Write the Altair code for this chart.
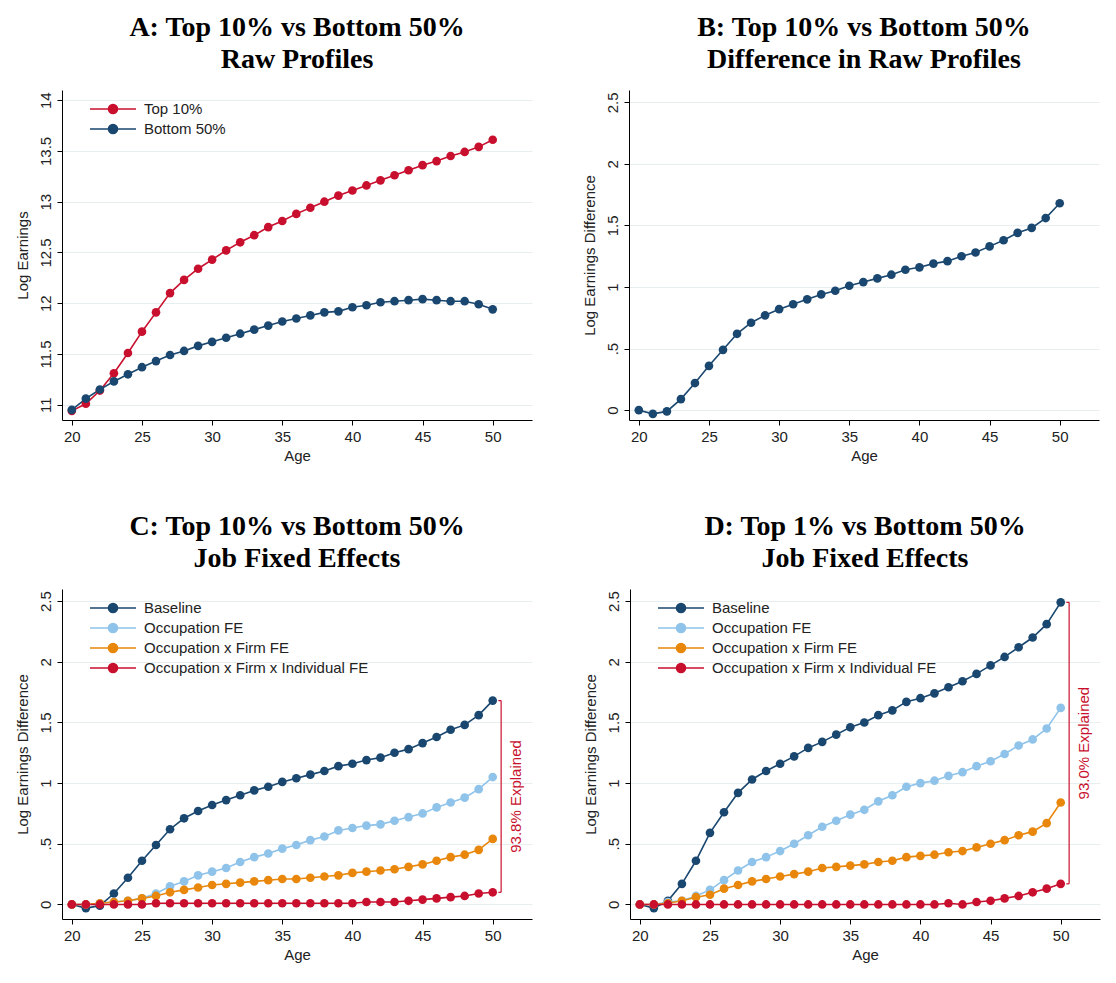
import altair as alt
import pandas as pd

ages = list(range(20, 51))

top10 = [10.94, 11.01, 11.14, 11.31, 11.51, 11.72, 11.91, 12.10, 12.23, 12.34, 12.43, 12.52, 12.60, 12.67, 12.75, 12.81,
         12.88, 12.94, 13.00, 13.06, 13.11, 13.16, 13.21, 13.26, 13.31, 13.36, 13.40, 13.45, 13.49, 13.54, 13.61]
bottom50 = [10.95, 11.06, 11.15, 11.23, 11.30, 11.37, 11.43, 11.49, 11.53, 11.58, 11.62, 11.66, 11.70, 11.74, 11.78, 11.82,
            11.85, 11.88, 11.91, 11.92, 11.96, 11.98, 12.01, 12.02, 12.03, 12.04, 12.03, 12.02, 12.02, 11.99, 11.94]

c_base = [0, -0.03, -0.01, 0.09, 0.22, 0.36, 0.49, 0.62, 0.71, 0.77, 0.82, 0.86, 0.90, 0.94, 0.97, 1.01,
          1.04, 1.07, 1.10, 1.14, 1.16, 1.19, 1.21, 1.25, 1.28, 1.33, 1.38, 1.44, 1.48, 1.56, 1.68]
c_occ = [0, 0, 0.01, 0.02, 0.03, 0.05, 0.09, 0.15, 0.19, 0.24, 0.27, 0.30, 0.35, 0.39, 0.42, 0.46,
         0.49, 0.53, 0.56, 0.61, 0.63, 0.65, 0.66, 0.69, 0.72, 0.75, 0.80, 0.84, 0.88, 0.95, 1.05]
c_firm = [0, 0, 0.01, 0.02, 0.03, 0.05, 0.07, 0.10, 0.12, 0.14, 0.16, 0.17, 0.18, 0.19, 0.20, 0.21,
          0.21, 0.22, 0.23, 0.24, 0.26, 0.27, 0.28, 0.29, 0.31, 0.33, 0.36, 0.39, 0.41, 0.45, 0.54]
c_ind = [0, 0, 0, 0, 0, 0, 0.01, 0.01, 0.01, 0.01, 0.01, 0.01, 0.01, 0.01, 0.01, 0.01,
         0.01, 0.01, 0.01, 0.01, 0.01, 0.02, 0.02, 0.02, 0.03, 0.04, 0.05, 0.06, 0.07, 0.09, 0.10]

d_base = [0, -0.03, 0.03, 0.17, 0.36, 0.59, 0.76, 0.92, 1.03, 1.10, 1.16, 1.22, 1.29, 1.34, 1.40, 1.46,
          1.50, 1.56, 1.60, 1.67, 1.70, 1.74, 1.79, 1.84, 1.90, 1.97, 2.04, 2.12, 2.20, 2.31, 2.49]
d_occ = [0, 0, 0.02, 0.03, 0.07, 0.12, 0.20, 0.28, 0.35, 0.39, 0.44, 0.50, 0.57, 0.64, 0.69, 0.74,
         0.78, 0.85, 0.90, 0.97, 1.00, 1.02, 1.06, 1.09, 1.14, 1.18, 1.24, 1.31, 1.36, 1.45, 1.62]
d_firm = [0, 0, 0.01, 0.03, 0.06, 0.08, 0.13, 0.16, 0.19, 0.21, 0.23, 0.25, 0.27, 0.30, 0.31, 0.32,
          0.33, 0.35, 0.36, 0.39, 0.40, 0.41, 0.43, 0.44, 0.47, 0.50, 0.53, 0.57, 0.60, 0.67, 0.84]
d_ind = [0, 0, 0, 0, 0, 0, 0, 0, 0, 0, 0, 0, 0, 0, 0, 0,
         0, 0, 0, 0, 0, 0, 0.01, 0, 0.02, 0.03, 0.05, 0.07, 0.10, 0.13, 0.17]

NAVY, LBLUE, ORANGE, RED = "#1a476f", "#8fc3ea", "#e8870b", "#c8102e"
fe_names = ["Baseline", "Occupation FE", "Occupation x Firm FE", "Occupation x Firm x Individual FE"]
fe_colors = [NAVY, LBLUE, ORANGE, RED]

# legend symbol: a line with a dot in the middle
LEG_SYMBOL = "M-2.3,0 L2.3,0 M-0.45,0 A0.45,0.45 0 1,0 0.45,0 A0.45,0.45 0 1,0 -0.45,0 Z"


def long(series, names):
    rows = []
    for name, vals in zip(names, series):
        rows += [{"age": a, "value": v, "series": name} for a, v in zip(ages, vals)]
    return pd.DataFrame(rows)


W, H = 470, 330
ylabel = "replace(format(datum.value, '.1~f'), /^0\\./, '.')"


def panel(df, title, ydom, yticks, ytitle, names, colors, legend=True, bracket=None):
    leg = alt.Legend(orient="top-left", title=None, labelFontSize=15, labelFont="Liberation Sans",
                     labelColor="#222", labelLimit=0, symbolType=LEG_SYMBOL, symbolSize=400,
                     symbolStrokeWidth=1.6, rowPadding=1, offset=4, labelOffset=20,
                     legendX=40, legendY=8) if legend else None
    if legend:
        leg = alt.Legend(orient="none", legendX=40, legendY=8, title=None, labelFontSize=15,
                         labelFont="Liberation Sans", labelColor="#222", labelLimit=0,
                         symbolType=LEG_SYMBOL, symbolSize=400, symbolStrokeWidth=1.6,
                         rowPadding=1, labelOffset=20)
    lines = alt.Chart(df).mark_line(point=alt.OverlayMarkDef(size=75, filled=True, opacity=1),
                                    strokeWidth=1.6).encode(
        x=alt.X("age:Q", title="Age", scale=alt.Scale(domain=[19.3, 52.8], nice=False),
                axis=alt.Axis(values=[20, 25, 30, 35, 40, 45, 50], grid=False)),
        y=alt.Y("value:Q", title=ytitle, scale=alt.Scale(domain=list(ydom), nice=False, zero=False),
                axis=alt.Axis(values=yticks, labelAngle=-90, labelAlign="center", labelBaseline="bottom",
                              labelExpr=ylabel, grid=True, titlePadding=8)),
        color=alt.Color("series:N", scale=alt.Scale(domain=names, range=colors), legend=leg),
        order=alt.Order("age:Q"),
    )
    layers = [lines]
    if bracket:
        lo, hi, label = bracket
        bd = pd.DataFrame({"x": [50.6], "x0": [50.4], "lo": [lo], "hi": [hi], "mid": [(lo + hi) / 2], "t": [label]})
        b = alt.Chart(bd)
        layers += [
            b.mark_rule(color=RED, strokeWidth=1.2).encode(x="x:Q", y="lo:Q", y2="hi:Q"),
            b.mark_rule(color=RED, strokeWidth=1.2).encode(x="x0:Q", x2="x:Q", y="lo:Q"),
            b.mark_rule(color=RED, strokeWidth=1.2).encode(x="x0:Q", x2="x:Q", y="hi:Q"),
            b.mark_text(color=RED, angle=270, fontSize=15, font="Liberation Sans", dy=15,
                        baseline="middle").encode(x="x:Q", y="mid:Q", text="t:N"),
        ]
    return alt.layer(*layers).properties(
        width=W, height=H,
        title=alt.TitleParams(title, font="Liberation Serif", fontSize=28, fontWeight="bold",
                              color="black", anchor="middle", offset=16, lineHeight=32),
    )


dfA = long([top10, bottom50], ["Top 10%", "Bottom 50%"])
dfB = long([c_base], ["Baseline"])
dfC = long([c_base, c_occ, c_firm, c_ind], fe_names)
dfD = long([d_base, d_occ, d_firm, d_ind], fe_names)

diff_ticks = [0, 0.5, 1, 1.5, 2, 2.5]
pA = panel(dfA, ["A: Top 10% vs Bottom 50%", "Raw Profiles"], (10.85, 14.1), [11, 11.5, 12, 12.5, 13, 13.5, 14],
           "Log Earnings", ["Top 10%", "Bottom 50%"], [RED, NAVY])
pB = panel(dfB, ["B: Top 10% vs Bottom 50%", "Difference in Raw Profiles"], (-0.08, 2.6), diff_ticks,
           "Log Earnings Difference", ["Baseline"], [NAVY], legend=False)
pC = panel(dfC, ["C: Top 10% vs Bottom 50%", "Job Fixed Effects"], (-0.12, 2.6), diff_ticks,
           "Log Earnings Difference", fe_names, fe_colors, bracket=(0.10, 1.68, "93.8% Explained"))
pD = panel(dfD, ["D: Top 1% vs Bottom 50%", "Job Fixed Effects"], (-0.12, 2.6), diff_ticks,
           "Log Earnings Difference", fe_names, fe_colors, bracket=(0.17, 2.49, "93.0% Explained"))

chart = alt.vconcat(
    alt.hconcat(pA, pB, spacing=50).resolve_scale(color="independent"),
    alt.hconcat(pC, pD, spacing=50).resolve_scale(color="independent"),
    spacing=50,
).resolve_scale(color="independent").properties(
    background="white", padding=6
).configure_view(stroke=None).configure_axis(
    labelFont="Liberation Sans", titleFont="Liberation Sans", labelFontSize=15, titleFontSize=15,
    titleFontWeight="normal", labelColor="#222", titleColor="#222", domainColor="black",
    tickColor="black", gridColor="#e6eef0", labelPadding=4,
)

chart.save("out.html", embed_options={"renderer": "svg", "actions": False})
